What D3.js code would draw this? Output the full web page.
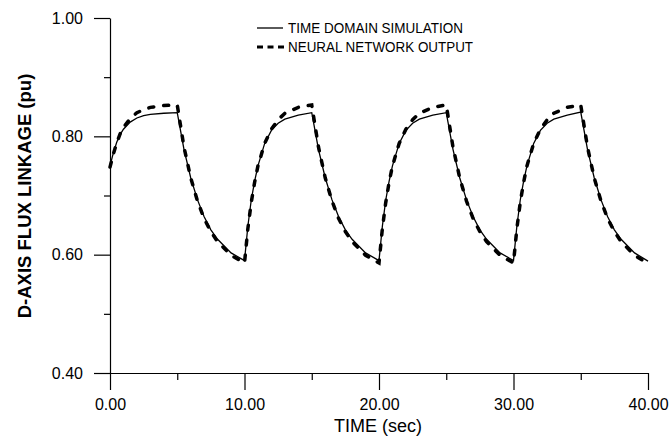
<!DOCTYPE html>
<html><head><meta charset="utf-8">
<script src="https://cdn.jsdelivr.net/npm/d3@7"></script>
<style>body{margin:0;background:#fff}svg{display:block}text{font-family:"Liberation Sans",Arial,sans-serif;fill:#000}</style>
</head><body>
<svg id="c" width="671" height="437"></svg>
<script>
const timeSec = [
  0,0.25,0.5,0.75,1,1.5,2,2.5,3,4,5,5.5,6,6.5,7,7.5,8,9,10,
  10.25,10.5,10.75,11,11.5,12,12.5,13,14,15,15.5,16,16.5,17,17.5,18,19,20,
  20.25,20.5,20.75,21,21.5,22,22.5,23,24,25,25.5,26,26.5,27,27.5,28,29,30,
  30.25,30.5,30.75,31,31.5,32,32.5,33,34,35,35.5,36,36.5,37,37.5,38,39,40
];
const simFlux = [
  0.750,0.772,0.790,0.803,0.812,0.824,0.831,0.835,0.837,0.839,0.840,0.778,0.730,0.693,0.664,0.642,0.626,0.603,0.590,
  0.648,0.692,0.724,0.750,0.788,0.810,0.822,0.829,0.836,0.840,0.778,0.730,0.693,0.664,0.642,0.626,0.603,0.590,
  0.648,0.692,0.724,0.750,0.788,0.810,0.822,0.829,0.836,0.840,0.778,0.730,0.693,0.664,0.642,0.626,0.603,0.590,
  0.648,0.692,0.724,0.750,0.788,0.810,0.822,0.829,0.836,0.841,0.778,0.730,0.693,0.664,0.642,0.626,0.603,0.589
];
const nnFlux = [
  0.748,0.770,0.789,0.804,0.815,0.830,0.840,0.845,0.849,0.852,0.853,0.782,0.730,0.691,0.661,0.639,0.622,0.599,0.586,
  0.644,0.688,0.722,0.750,0.788,0.812,0.828,0.839,0.849,0.853,0.782,0.730,0.691,0.661,0.639,0.622,0.599,0.586,
  0.644,0.688,0.722,0.750,0.788,0.812,0.828,0.839,0.849,0.853,0.782,0.730,0.691,0.661,0.639,0.622,0.599,0.586,
  0.644,0.688,0.722,0.750,0.788,0.812,0.828,0.839,0.849,0.853,0.782,0.730,0.691,0.661,0.639,0.622,0.599,0.585
];
const xMajorTicks = [0,10,20,30,40];
const xMinorTicks = [5,15,25,35];
const yMajorTicks = [0.4,0.6,0.8,1.0];
const yMinorTicks = [0.5,0.7,0.9];
const seriesNames = ["TIME DOMAIN SIMULATION","NEURAL NETWORK OUTPUT"];
const xTitle = "TIME (sec)";
const yTitle = "D-AXIS FLUX LINKAGE (pu)";

const svg = d3.select("#c");
const x = d3.scaleLinear().domain([0,40]).range([110,648]);
const y = d3.scaleLinear().domain([0.4,1.0]).range([373,18]);
const fmt = d3.format(".2f");

// y axis
svg.append("g").attr("transform","translate(110,0)")
  .call(d3.axisLeft(y).tickValues(yMajorTicks).tickSize(16).tickSizeOuter(0).tickPadding(11).tickFormat(fmt));
svg.append("g").attr("transform","translate(110,0)")
  .call(d3.axisLeft(y).tickValues(yMinorTicks).tickSize(6).tickFormat(""))
  .select(".domain").remove();
// x axis
svg.append("g").attr("transform","translate(0,373)")
  .call(d3.axisBottom(x).tickValues(xMajorTicks).tickSize(17).tickSizeOuter(0).tickPadding(9).tickFormat(fmt));
svg.append("g").attr("transform","translate(0,373)")
  .call(d3.axisBottom(x).tickValues(xMinorTicks).tickSize(7).tickFormat(""))
  .select(".domain").remove();

svg.selectAll(".domain, .tick line").attr("stroke","#000").attr("stroke-width",1.2);
svg.selectAll(".tick text").style("font-size","16px").attr("fill","#000");

// titles
svg.append("text").attr("x",378).attr("y",432).attr("text-anchor","middle")
  .style("font-size","18px").text(xTitle);
svg.append("text").attr("transform","translate(31,196) rotate(-90)").attr("text-anchor","middle")
  .style("font-size","18.5px").style("font-weight","bold").text(yTitle);

// lines
const pts = timeSec.map((t,i)=>({t, s: simFlux[i], n: nnFlux[i]}));
const lineS = d3.line().x(d=>x(d.t)).y(d=>y(d.s));
const lineN = d3.line().x(d=>x(d.t)).y(d=>y(d.n));
svg.append("path").datum(pts).attr("d",lineN).attr("fill","none").attr("stroke","#000")
  .attr("stroke-width",3.5).attr("stroke-dasharray","5,10").attr("stroke-linecap","round");
svg.append("path").datum(pts).attr("d",lineS).attr("fill","none").attr("stroke","#000")
  .attr("stroke-width",1.3);

// legend
const lg = svg.append("g");
lg.append("line").attr("x1",257).attr("x2",283).attr("y1",28).attr("y2",28).attr("stroke","#000").attr("stroke-width",1.3);
lg.append("line").attr("x1",257).attr("x2",284).attr("y1",47).attr("y2",47).attr("stroke","#000").attr("stroke-width",3)
  .attr("stroke-dasharray","6,4.5");
lg.append("text").attr("x",288).attr("y",33).style("font-size","15px")
  .attr("textLength",175).attr("lengthAdjust","spacingAndGlyphs").text(seriesNames[0]);
lg.append("text").attr("x",288).attr("y",52).style("font-size","15px")
  .attr("textLength",185).attr("lengthAdjust","spacingAndGlyphs").text(seriesNames[1]);
</script>
</body></html>
